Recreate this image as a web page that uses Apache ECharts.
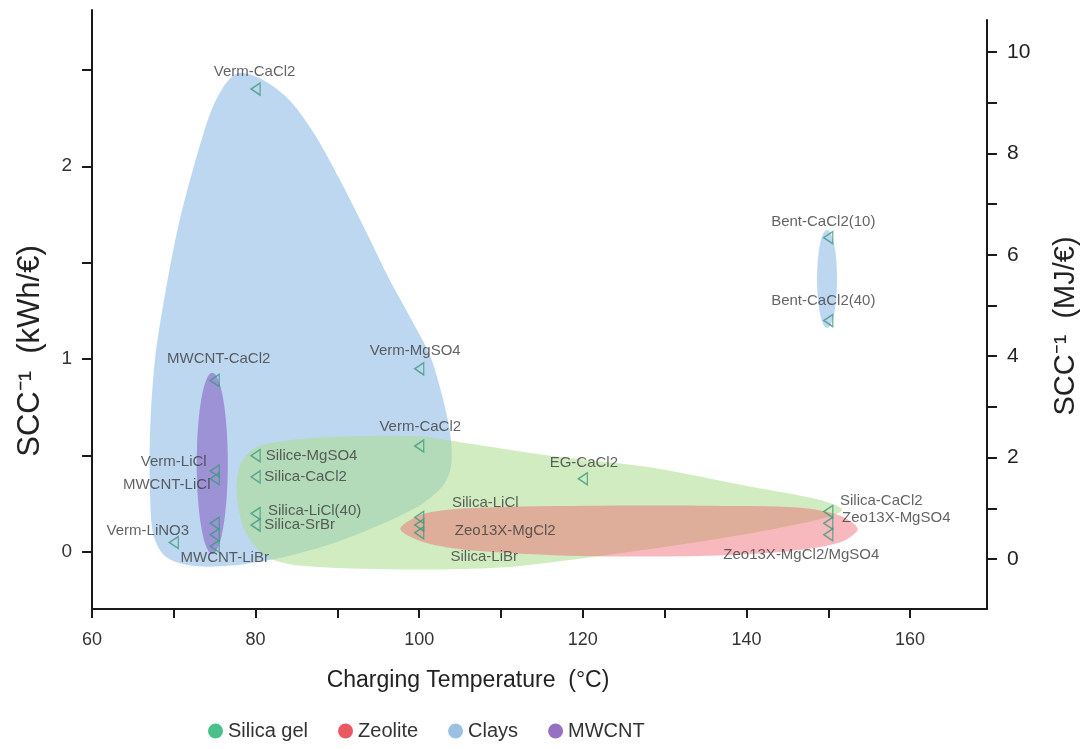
<!DOCTYPE html>
<html><head><meta charset="utf-8">
<script src="https://cdn.jsdelivr.net/npm/echarts@6/dist/echarts.min.js"></script>
<style>html,body{margin:0;padding:0;background:#fff}#c{width:1091px;height:749px}</style>
</head><body><div id="c"></div>
<script>
// ---------- data ----------
const xTicks = [60, 70, 80, 90, 100, 110, 120, 130, 140, 150, 160];
const xLabels = [60, 80, 100, 120, 140, 160];
const yLeftTicks = [0, 0.5, 1, 1.5, 2, 2.5];
const yLeftLabels = [0, 1, 2];
const yRightTicks = [0, 1, 2, 3, 4, 5, 6, 7, 8, 9, 10];
const yRightLabels = [0, 2, 4, 6, 8, 10];

const pointNames = ['Verm-CaCl2', 'Bent-CaCl2(10)', 'Bent-CaCl2(40)', 'MWCNT-CaCl2', 'Verm-MgSO4', 'Verm-CaCl2',
  'Verm-LiCl', 'MWCNT-LiCl', 'Verm-LiNO3', 'MWCNT-LiBr', 'MWCNT-LiBr', 'MWCNT-LiBr',
  'Silice-MgSO4', 'Silica-CaCl2', 'Silica-LiCl(40)', 'Silica-SrBr', 'EG-CaCl2',
  'Silica-LiCl', 'Zeo13X-MgCl2', 'Silica-LiBr', 'Silica-CaCl2', 'Zeo13X-MgSO4', 'Zeo13X-MgCl2/MgSO4'];
const pointX = [80, 150, 150, 75, 100, 100, 75, 75, 70, 75, 75, 75, 80, 80, 80, 80, 120, 100, 100, 100, 150, 150, 150];
const pointY = [2.40, 1.63, 1.20, 0.89, 0.95, 0.55, 0.42, 0.38, 0.05, 0.15, 0.09, 0.03,
  0.50, 0.39, 0.20, 0.14, 0.38, 0.18, 0.14, 0.10, 0.21, 0.15, 0.09];

// region outlines (°C, kWh/€)
const claysOutline = [[77.6, 2.48], [80.8, 2.45], [84.2, 2.34], [87.3, 2.16], [90.3, 1.93], [93.4, 1.67],
  [96.4, 1.41], [99.1, 1.20], [101.3, 1.02], [102.8, 0.81], [103.8, 0.61], [103.9, 0.45], [103.0, 0.35],
  [100.7, 0.26], [97.7, 0.19], [94.0, 0.12], [89.1, 0.04], [83.0, -0.03], [76.9, -0.07], [72.0, -0.07],
  [68.9, -0.02], [67.5, 0.09], [67.1, 0.30], [67.1, 0.63], [67.7, 1.00], [68.9, 1.33], [70.6, 1.70],
  [72.8, 2.05], [75.0, 2.33]];
const silicaOutline = [[78.1, 0.45], [79.9, 0.54], [84.2, 0.58], [91.5, 0.60], [100.1, 0.60], [105.0, 0.57],
  [116.0, 0.50], [128.2, 0.44], [140.4, 0.34], [149.0, 0.27], [151.7, 0.22], [149.0, 0.17], [136.8, 0.07],
  [122.1, -0.02], [109.9, -0.08], [97.7, -0.09], [85.4, -0.07], [81.2, -0.02], [78.7, 0.11], [77.7, 0.30]];
const zeoliteOutline = [[97.7, 0.12], [100.7, 0.20], [107.4, 0.23], [122.1, 0.24], [134.3, 0.24], [146.6, 0.23],
  [151.4, 0.19], [153.6, 0.12], [151.4, 0.05], [144.1, 0.00], [134.3, -0.02], [119.7, -0.02], [106.2, 0.01], [100.7, 0.05]];
// ellipses: centre x, centre y, radius x, radius y
const mwcntEllipse = [74.7, 0.46, 1.9, 0.47];
const bentEllipse = [149.85, 1.415, 1.22, 0.254];

// ---------- styles ----------
const labelShown = pointNames.map((n, i) => !(i === 9 || i === 10));
const labelOffsets = [[-1, -17], [-5, -16], [-5, -20], [4, -22], [-4, -18], [1, -19],
  [-41, -9], [-48, 6], [-26, -12], [10, 12], [0, 0], [10, 12],
  [56, 0], [50, 0], [59, -3], [44, 0], [1, -16],
  [66, -15], [86, 6], [65, 24], [53, -11], [68, -5], [-27, 20]];

const FONT = 'Liberation Sans';
const chart = echarts.init(document.getElementById('c'), null, { renderer: 'canvas' });

function polySeries(name, outline, color, z) {
  return {
    type: 'custom', name, xAxisIndex: 0, yAxisIndex: 0, z, silent: true,
    itemStyle: { color }, data: [outline[0]],
    renderItem: (params, api) => ({
      type: 'polygon',
      shape: { points: outline.map(p => api.coord(p)), smooth: 0.3 },
      style: { fill: color }
    })
  };
}
function ellipseSeries(name, e, color, z) {
  return {
    type: 'custom', name, xAxisIndex: 0, yAxisIndex: 0, z, silent: true,
    itemStyle: { color }, data: [[e[0], e[1]]],
    renderItem: (params, api) => {
      const c = api.coord([e[0], e[1]]);
      const s = api.size([e[2], e[3]]);
      return { type: 'ellipse', shape: { cx: c[0], cy: c[1], rx: s[0], ry: s[1] }, style: { fill: color } };
    }
  };
}

const axisLineStyle = { color: '#1a1a1a', width: 2 };
const option = {
  animation: false,
  grid: [
    { left: 92, right: 104, top: 10, bottom: 140 },
    { left: 92, right: 104, top: 20, bottom: 140 }
  ],
  xAxis: [
    { type: 'value', gridIndex: 0, min: 60, max: 169.4,
      axisLine: { show: true, onZero: false, lineStyle: axisLineStyle },
      axisTick: { show: true, customValues: xTicks, length: 9, lineStyle: axisLineStyle },
      axisLabel: { customValues: xLabels, fontSize: 18, color: '#333', margin: 22, fontFamily: FONT },
      splitLine: { show: false } },
    { type: 'value', gridIndex: 1, min: 60, max: 169.4, show: false }
  ],
  yAxis: [
    { type: 'value', gridIndex: 0, min: -0.295, max: 2.81,
      axisLine: { show: true, onZero: false, lineStyle: axisLineStyle },
      axisTick: { show: true, customValues: yLeftTicks, length: 10, lineStyle: axisLineStyle },
      axisLabel: { customValues: yLeftLabels, fontSize: 19, color: '#333', margin: 20, fontFamily: FONT },
      splitLine: { show: false } },
    { type: 'value', gridIndex: 1, position: 'right', min: -0.986, max: 10.63,
      axisLine: { show: true, onZero: false, lineStyle: axisLineStyle },
      axisTick: { show: true, customValues: yRightTicks, length: 10, lineStyle: axisLineStyle },
      axisLabel: { customValues: yRightLabels, fontSize: 21, color: '#222', margin: 20, fontFamily: FONT },
      splitLine: { show: false } }
  ],
  legend: {
    left: 203, top: 716, icon: 'circle', itemWidth: 15, itemHeight: 15, itemGap: 30,
    textStyle: { fontSize: 20, color: '#333', fontFamily: FONT },
    data: [
      { name: 'Silica gel', itemStyle: { color: '#4cc08a' } },
      { name: 'Zeolite', itemStyle: { color: '#ec5862' } },
      { name: 'Clays', itemStyle: { color: '#9cc0e2' } },
      { name: 'MWCNT', itemStyle: { color: '#9670c2' } }
    ]
  },
  graphic: [
    { type: 'text', x: 30, y: 351, rotation: Math.PI / 2,
      style: { text: 'SCC\u207B\u00B9  (kWh/€)', fontSize: 31, fill: '#222', fontFamily: FONT, align: 'center', verticalAlign: 'middle' } },
    { type: 'text', x: 1066, y: 326, rotation: Math.PI / 2,
      style: { text: 'SCC\u207B\u00B9  (MJ/€)', fontSize: 29, fill: '#222', fontFamily: FONT, align: 'center', verticalAlign: 'middle' } },
    { type: 'text', x: 468, y: 681,
      style: { text: 'Charging Temperature  (°C)', fontSize: 23, fill: '#222', fontFamily: FONT, align: 'center', verticalAlign: 'middle' } }
  ],
  series: [
    polySeries('Clays', claysOutline, 'rgba(150,190,230,0.62)', 1),
    ellipseSeries('Clays', bentEllipse, 'rgba(150,190,230,0.62)', 1),
    polySeries('Silica gel', silicaOutline, 'rgba(170,220,140,0.55)', 2),
    polySeries('Zeolite', zeoliteOutline, 'rgba(240,100,110,0.45)', 3),
    ellipseSeries('MWCNT', mwcntEllipse, 'rgba(135,100,195,0.6)', 4),
    {
      type: 'scatter', name: 'points', xAxisIndex: 0, yAxisIndex: 0, z: 10,
      symbol: 'triangle', symbolRotate: 90, symbolSize: [12, 9],
      itemStyle: { color: 'rgba(0,0,0,0)', borderColor: '#3f9a7f', borderWidth: 1.4 },
      label: { show: true, position: 'inside', formatter: p => p.name, color: '#3c3c3c', fontSize: 15, fontFamily: FONT },
      data: pointNames.map((n, i) => ({
        name: n, value: [pointX[i], pointY[i]],
        label: { show: labelShown[i], offset: labelOffsets[i] }
      }))
    }
  ]
};
chart.setOption(option);
</script></body></html>
